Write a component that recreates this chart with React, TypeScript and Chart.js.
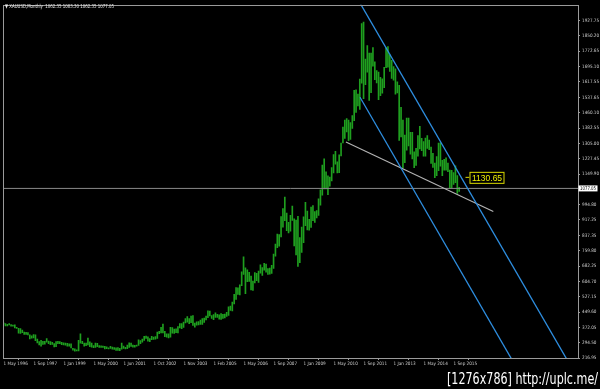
import React, { useEffect, useRef } from 'react';
import { Chart, registerables } from 'chart.js';

Chart.register(...registerables);

// Monthly XAUUSD bars (one value per bar on the chart), highs and lows
const HIGHS = [
  // 1996 May-Dec
  395, 392, 388, 391, 387, 384, 385, 373,
  // 1997
  368, 366, 358, 348, 347, 346, 334, 330, 336, 334, 313, 300,
  // 1998
  306, 302, 302, 316, 303, 300, 297, 290, 300, 302, 300, 297,
  // 1999
  294, 292, 291, 289, 289, 266, 263, 259, 307, 339, 301, 292,
  // 2000 Jan-Apr
  293, 318, 299, 292,
  // May 2000 - May 2001
  280, 293, 291, 280, 279, 277, 276, 273, 269, 276, 272, 270, 268, 270, 266, 293,
  // Jun 2001 - Sep 2002
  277, 271, 283, 294, 293, 283, 281, 283, 309, 305, 313, 327, 328, 324, 316, 327,
  // Oct 2002 - Oct 2003
  323, 326, 349, 352, 372, 389, 352, 340, 340, 372, 371, 363, 365, 376, 391, 391,
  // Nov 2003 - Jan 2005
  399, 417, 427, 417, 429, 432, 394, 400, 402, 409, 417, 420, 430, 456, 455, 432,
  // Feb 2005 - Apr 2006
  437, 446, 438, 436, 442, 439, 440, 449, 477, 480, 500, 540, 574, 573, 588, 654,
  // 2006 May-Dec
  730, 674, 664, 651, 633, 607, 650, 646,
  // 2007
  658, 690, 675, 697, 693, 670, 673, 687, 744, 795, 845, 843,
  // 2008
  934, 975, 1033, 952, 905, 941, 988, 923, 917, 935, 828, 881,
  // 2009
  933, 1006, 962, 920, 982, 990, 960, 965, 1024, 1070, 1195, 1227,
  // 2010
  1161, 1141, 1135, 1183, 1249, 1265, 1212, 1247, 1307, 1388, 1424, 1431,
  // 2011
  1424, 1411, 1447, 1575, 1577, 1556, 1632, 1913, 1921, 1733, 1802, 1764,
  // 2012
  1763, 1791, 1719, 1675, 1667, 1640, 1633, 1691, 1790, 1796, 1755, 1727,
  // 2013
  1695, 1683, 1617, 1600, 1488, 1424, 1348, 1434, 1434, 1362, 1361, 1262,
  // 2014
  1280, 1345, 1392, 1331, 1315, 1332, 1345, 1322, 1287, 1255, 1205, 1239,
  // 2015
  1307, 1308, 1220, 1224, 1232, 1205, 1170, 1169, 1157, 1191, 1142, 1083,
];

const LOWS = [
  389, 380, 380, 385, 378, 378, 370, 367,
  343, 341, 345, 336, 336, 334, 314, 318, 319, 305, 294, 283,
  277, 286, 287, 297, 290, 285, 286, 273, 274, 289, 290, 285,
  283, 282, 277, 277, 268, 257, 252, 253, 253, 292, 289, 277,
  279, 283, 274, 272,
  269, 271, 275, 271, 271, 270, 263, 264, 263, 265, 262, 260, 255, 256, 254, 262,
  265, 263, 264, 271, 276, 272, 272, 277, 281, 289, 297, 306, 316, 302, 300, 310,
  311, 313, 316, 340, 344, 344, 325, 322, 319, 323, 343, 342, 345, 344, 369, 366,
  372, 395, 399, 391, 396, 382, 373, 383, 385, 387, 387, 397, 410, 422, 430, 418,
  411, 423, 423, 414, 413, 418, 420, 428, 433, 458, 456, 491, 514, 539, 537, 584,
  641, 543, 604, 605, 562, 560, 598, 609,
  600, 647, 636, 663, 652, 641, 642, 646, 671, 733, 777, 784,
  831, 880, 913, 863, 851, 860, 915, 786, 740, 681, 700, 753,
  802, 888, 866, 865, 879, 913, 905, 928, 940, 992, 1043, 1075,
  1075, 1045, 1088, 1115, 1155, 1200, 1155, 1157, 1242, 1308, 1330, 1363,
  1319, 1325, 1381, 1420, 1462, 1495, 1478, 1611, 1532, 1603, 1667, 1523,
  1563, 1697, 1628, 1612, 1527, 1547, 1560, 1588, 1689, 1692, 1671, 1635,
  1626, 1555, 1562, 1321, 1338, 1180, 1207, 1271, 1292, 1251, 1227, 1182,
  1194, 1241, 1277, 1268, 1240, 1240, 1280, 1273, 1204, 1183, 1131, 1142,
  1167, 1190, 1142, 1170, 1170, 1162, 1077, 1080, 1097, 1106, 1052, 1062,
];

const Y_TICKS = [
  1927.75, 1850.2, 1772.65, 1695.1, 1617.55, 1537.65, 1460.1, 1382.55, 1305.0,
  1227.45, 1149.9, 994.8, 917.25, 837.35, 759.8, 682.25, 604.7, 527.15, 449.6,
  372.05, 294.5, 216.95,
];

const X_TICK_IDX = [0, 16, 32, 48, 64, 80, 96, 112, 128, 144, 160, 176, 192, 208, 224, 240];
const X_LABELS = [
  '1 May 1996', '1 Sep 1997', '1 Jan 1999', '1 May 2000', '1 Jun 2001', '1 Oct 2002',
  '1 Nov 2003', '1 Feb 2005', '1 May 2006', '1 Sep 2007', '1 Jan 2009', '1 May 2010',
  '1 Sep 2011', '1 Jan 2013', '1 May 2014', '1 Sep 2015',
];

// Drawn objects (bar index, price)
const CHANNEL_UPPER = [{ x: 186, y: 2084.6 }, { x: 306, y: 118.7 }];
const CHANNEL_LOWER = [{ x: 190.1, y: 1539.2 }, { x: 280, y: 62.8 }];
const TREND_LINE = [{ x: 182.6, y: 1312.1 }, { x: 261.2, y: 960.3 }];
const BID_PRICE = 1077.05;
const PRICE_LABEL = 1130.65;
const LABEL_BAR = 248.5;
const HEADER = '\u25BC XAUUSD,Monthly  1062.35 1083.30 1062.35 1077.05';
const WATERMARK = '[1276x786] http://uplc.me/';

const Y_MIN = 216.95;
const Y_MAX = 2008.5;
const X_MIN = -0.3;
const X_MAX = 306.37;

const SMALL_FONT = '"Liberation Sans Narrow", "DejaVu Sans Condensed", "Liberation Sans", sans-serif';

const overlayPlugin = {
  id: 'mt4overlay',
  beforeDraw(chart: any) {
    const c = chart.ctx;
    c.save();
    c.fillStyle = '#000';
    c.fillRect(0, 0, chart.width, chart.height);
    c.restore();
  },
  afterDraw(chart: any) {
    const c = chart.ctx;
    const a = chart.chartArea;
    const ys = chart.scales.y;
    const xs = chart.scales.x;
    c.save();
    // frame
    c.strokeStyle = '#9a9a9a';
    c.lineWidth = 1;
    c.strokeRect(Math.round(a.left) + 0.5, Math.round(a.top) + 0.5, Math.round(a.right - a.left), Math.round(a.bottom - a.top));
    // header
    c.fillStyle = '#e8e8e8';
    c.font = '5.5px ' + SMALL_FONT;
    c.textBaseline = 'middle';
    c.textAlign = 'left';
    c.fillText(HEADER, 5, 6.5, 109);
    // bid box on axis
    const by = ys.getPixelForValue(BID_PRICE);
    c.fillStyle = '#ffffff';
    c.fillRect(a.right + 0.5, by - 3, 19, 6);
    c.fillStyle = '#000';
    c.font = '5.2px ' + SMALL_FONT;
    c.fillText(BID_PRICE.toFixed(2), a.right + 2, by + 0.3, 16);
    // price label 1130.65
    const ly = ys.getPixelForValue(PRICE_LABEL);
    const lx = xs.getPixelForValue(LABEL_BAR);
    c.strokeStyle = '#d8d800';
    c.beginPath();
    c.moveTo(lx - 4, ly - 0.5);
    c.lineTo(lx, ly - 0.5);
    c.stroke();
    c.fillStyle = '#000';
    c.fillRect(lx, ly - 5.5, 34, 11);
    c.strokeRect(lx + 0.5, ly - 5.5, 34, 11);
    c.fillStyle = '#f0f000';
    c.font = '8.5px "Liberation Sans", Arial, sans-serif';
    c.fillText(PRICE_LABEL.toFixed(2), lx + 2.5, ly + 0.5);
    // watermark
    c.fillStyle = '#ffffff';
    c.font = '16px "DejaVu Sans", sans-serif';
    c.textBaseline = 'alphabetic';
    c.fillText(WATERMARK, 447, 384, 151);
    c.restore();
  },
};

export default function App() {
  const ref = useRef<HTMLCanvasElement>(null);
  useEffect(() => {
    document.body.style.margin = '0';
    document.body.style.background = '#000';
    const canvas = ref.current!;
    const barData = HIGHS.map((h, i) => ({ x: i, y: [LOWS[i], h] }));
    const chart = new Chart(canvas, {
      type: 'bar',
      data: {
        datasets: [
          {
            type: 'line',
            data: CHANNEL_UPPER,
            borderColor: '#2e8ee0',
            borderWidth: 1.3,
            pointRadius: 0,
            order: 1,
          } as any,
          {
            type: 'line',
            data: CHANNEL_LOWER,
            borderColor: '#2e8ee0',
            borderWidth: 1.3,
            pointRadius: 0,
            order: 1,
          } as any,
          {
            type: 'line',
            data: TREND_LINE,
            borderColor: '#b4b4b4',
            borderWidth: 1.1,
            pointRadius: 0,
            order: 1,
          } as any,
          {
            type: 'line',
            data: [{ x: X_MIN - 1, y: BID_PRICE }, { x: X_MAX + 1, y: BID_PRICE }],
            borderColor: '#8a8a8a',
            borderWidth: 1,
            pointRadius: 0,
            order: 2,
          } as any,
          {
            type: 'bar',
            data: barData as any,
            backgroundColor: '#1f9f1f',
            barThickness: 1,
            borderWidth: 0,
            order: 3,
          } as any,
        ],
      },
      options: {
        responsive: false,
        animation: false,
        devicePixelRatio: 1,
        layout: { padding: { left: 3, top: 3, right: 0, bottom: 0 } },
        plugins: { legend: { display: false }, tooltip: { enabled: false }, title: { display: false } },
        scales: {
          x: {
            type: 'linear',
            min: X_MIN,
            max: X_MAX,
            offset: false,
            border: { display: false },
            grid: { display: true, drawOnChartArea: false, drawTicks: true, tickLength: 2, color: '#9a9a9a' },
            afterBuildTicks: (s: any) => {
              s.ticks = X_TICK_IDX.map((v) => ({ value: v }));
            },
            afterFit: (s: any) => {
              s.height = 31;
            },
            ticks: {
              autoSkip: false,
              maxRotation: 0,
              align: 'start',
              padding: 1,
              color: '#d0d0d0',
              font: { family: SMALL_FONT, size: 4.6 },
              callback: (_v: any, i: number) => X_LABELS[i],
            },
          },
          y: {
            type: 'linear',
            position: 'right',
            min: Y_MIN,
            max: Y_MAX,
            border: { display: false },
            grid: { display: true, drawOnChartArea: false, drawTicks: true, tickLength: 2, color: '#9a9a9a' },
            afterBuildTicks: (s: any) => {
              s.ticks = Y_TICKS.map((v) => ({ value: v }));
            },
            afterFit: (s: any) => {
              s.width = 22;
            },
            ticks: {
              autoSkip: false,
              padding: 2,
              color: '#d0d0d0',
              font: { family: SMALL_FONT, size: 4.6 },
              callback: (v: any) => Number(v).toFixed(2),
            },
          },
        },
      },
      plugins: [overlayPlugin],
    });
    return () => chart.destroy();
  }, []);
  return <canvas ref={ref} width={600} height={389} style={{ display: 'block', width: 600, height: 389 }} />;
}
